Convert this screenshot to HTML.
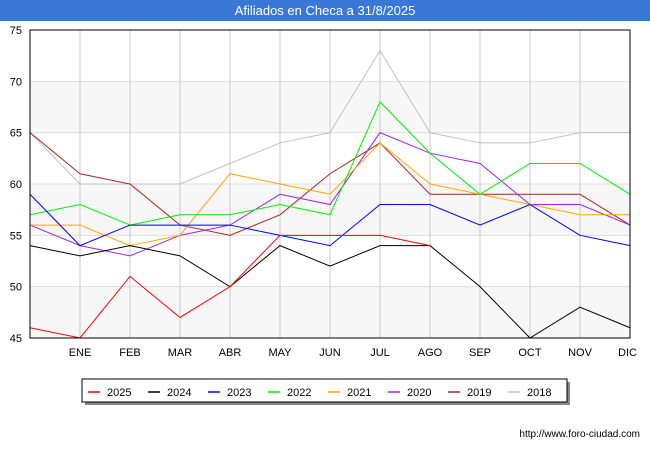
<!DOCTYPE html>
<html><head><meta charset="utf-8"><style>
body{margin:0;background:#fff;font-family:"Liberation Sans",sans-serif}
</style></head><body>
<svg width="650" height="450" viewBox="0 0 650 450" xmlns="http://www.w3.org/2000/svg">
<rect x="0" y="0" width="650" height="450" fill="#fff"/>
<rect x="0" y="0" width="650" height="21" fill="#3a78d8"/>
<text x="325" y="15" font-size="13" fill="#fff" text-anchor="middle">Afiliados en Checa a 31/8/2025</text>
<g id="bands"></g><g id="grid"></g><g id="axes"></g><g id="series"></g>
<rect x="30" y="30" width="600" height="308" fill="none" stroke="#000" stroke-width="1"/>
<g id="legend"></g>
<text x="640" y="437" font-size="10" text-anchor="end" fill="#000">http://www.foro-ciudad.com</text>
</svg>
<script>
const months=["","ENE","FEB","MAR","ABR","MAY","JUN","JUL","AGO","SEP","OCT","NOV","DIC"];
const yTicks=[45,50,55,60,65,70,75];
const seriesNames=["2025","2024","2023","2022","2021","2020","2019","2018"];
const seriesColors=["#ff0000","#000000","#0000ff","#00ee00","#ffa500","#a020f0","#b22222","#c0c0c0"];
const s2025=[46,45,51,47,50,55,55,55,54];
const s2024=[54,53,54,53,50,54,52,54,54,50,45,48,46];
const s2023=[59,54,56,56,56,55,54,58,58,56,58,55,54];
const s2022=[57,58,56,57,57,58,57,68,63,59,62,62,59];
const s2021=[56,56,54,55,61,60,59,64,60,59,58,57,57];
const s2020=[56,54,53,55,56,59,58,65,63,62,58,58,56];
const s2019=[65,61,60,56,55,57,61,64,59,59,59,59,56];
const s2018=[65,60,60,60,62,64,65,73,65,64,64,65,65];
const allSeries=[s2025,s2024,s2023,s2022,s2021,s2020,s2019,s2018];
const NS="http://www.w3.org/2000/svg";
const x=i=>30+i*50;
const y=v=>30+(75-v)*308/30;
function mk(t,a,p){const e=document.createElementNS(NS,t);for(const k in a)e.setAttribute(k,a[k]);p.appendChild(e);return e;}
const bands=document.getElementById('bands'),grid=document.getElementById('grid'),axes=document.getElementById('axes'),ser=document.getElementById('series'),leg=document.getElementById('legend');
for(let i=0;i<yTicks.length-1;i+=2){const b=mk('rect',{x:30,y:y(yTicks[i]+5),width:600,height:y(yTicks[i])-y(yTicks[i]+5),fill:'#f7f7f7'},bands);

}
yTicks.forEach(v=>{const l=mk('line',{x1:30,x2:630,y1:y(v),y2:y(v),stroke:'#dddddd'},grid);


const t=mk('text',{x:22,y:y(v)+4,'font-size':11,'text-anchor':'end',fill:'#000'},axes);t.textContent=v;

});
months.forEach((m,i)=>{if(i>0){const l=mk('line',{x1:x(i),x2:x(i),y1:30,y2:338,stroke:'#c8c8c8'},grid);

}
if(m){const t=mk('text',{x:x(i),y:356,'font-size':11,'text-anchor':i==12?'end':'middle',fill:'#000'},axes);t.textContent=m;if(i==12)t.setAttribute('x',637);

}});
for(let s=allSeries.length-1;s>=0;s--){const d=allSeries[s].map((v,i)=>x(i)+','+y(v)).join(' ');
const p=mk('polyline',{points:d,fill:'none',stroke:seriesColors[s],'stroke-width':1},ser);

}
const sh=mk('rect',{x:85,y:382,width:485,height:23,fill:'#888'},leg);


const lb=mk('rect',{x:82,y:379,width:485,height:23,fill:'#fff',stroke:'#000'},leg);


seriesNames.forEach((n,i)=>{const lx=88+i*60;
const l=mk('line',{x1:lx,x2:lx+12,y1:392,y2:392,stroke:seriesColors[i],'stroke-width':1.5},leg);


const t=mk('text',{x:lx+19,y:396,'font-size':11,fill:'#000'},leg);t.textContent=n;

});
</script>
</body></html>
